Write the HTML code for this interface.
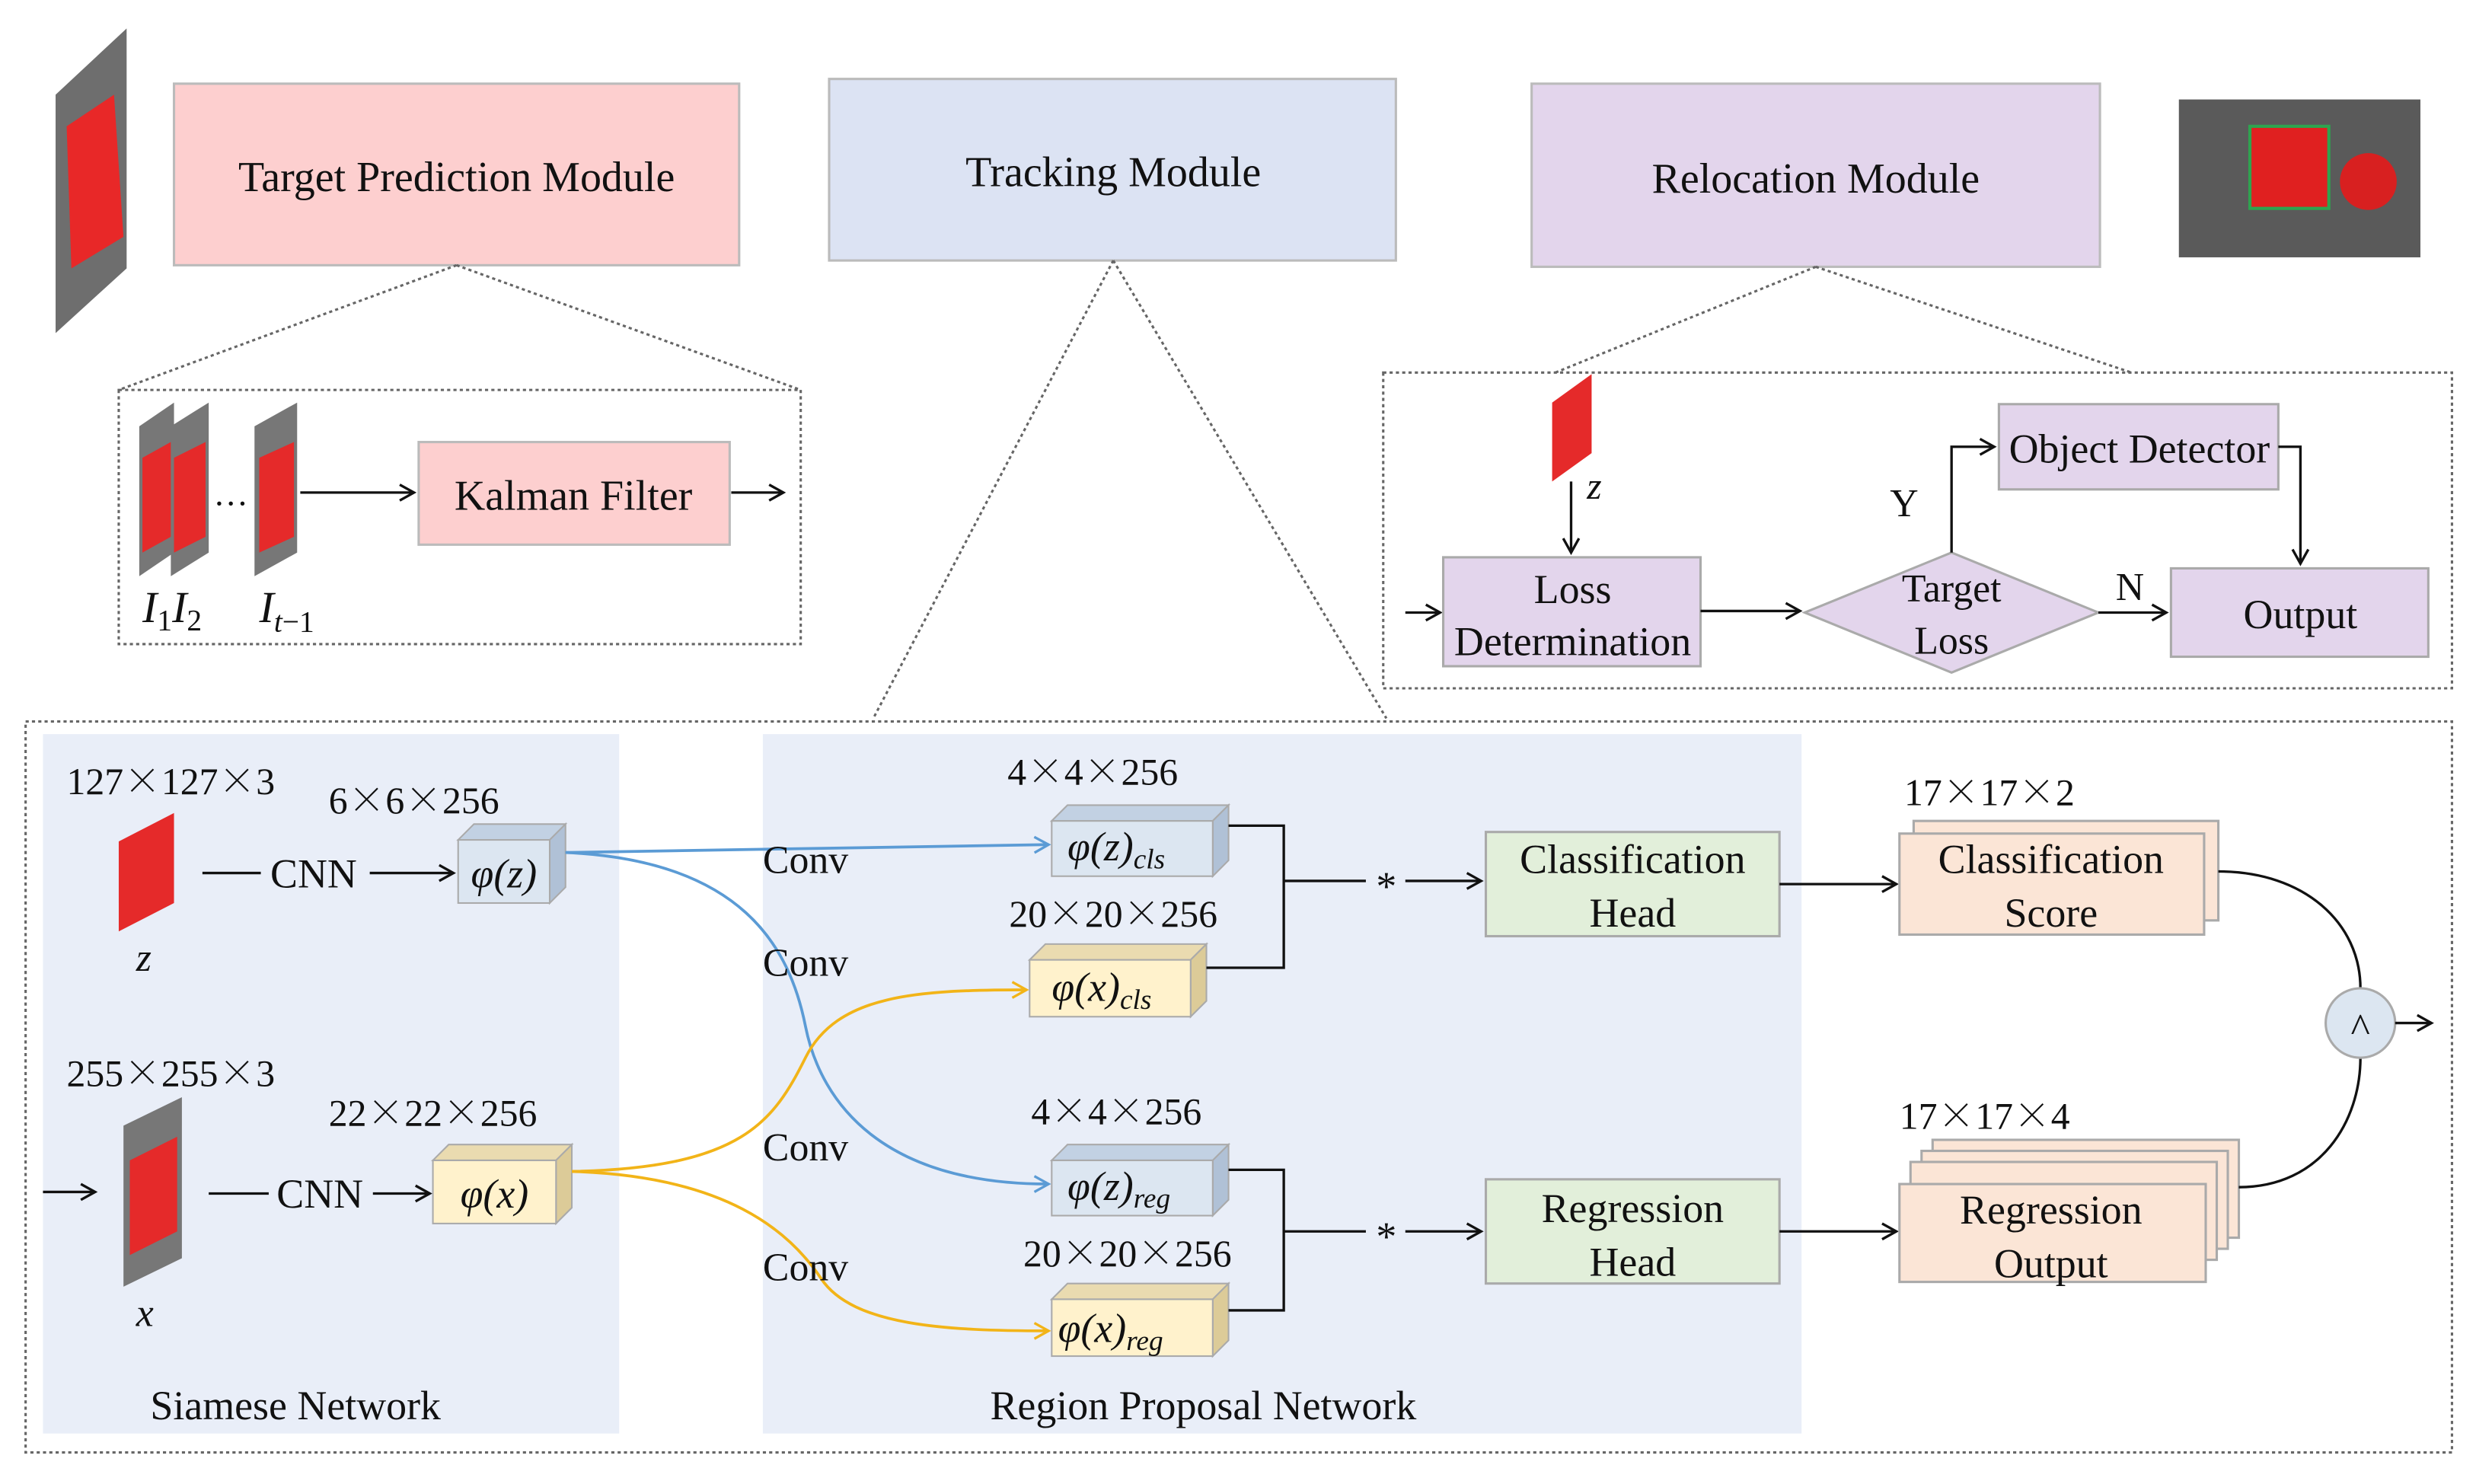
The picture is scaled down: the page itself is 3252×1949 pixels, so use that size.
<!DOCTYPE html>
<html><head><meta charset="utf-8"><style>
html,body{margin:0;padding:0;background:#fff;}
svg{display:block;}
text{font-family:"Liberation Serif",serif;fill:#111;}
.x{font-family:"Noto Serif CJK SC","Noto Sans CJK SC",serif;}
</style></head><body>
<svg width="3252" height="1949" viewBox="0 0 1568 940" xmlns="http://www.w3.org/2000/svg">
<defs>
<marker id="a" markerWidth="12" markerHeight="12" refX="10" refY="6" orient="auto" markerUnits="userSpaceOnUse">
<path d="M1,1 L10,6 L1,11" fill="none" stroke="#111" stroke-width="1.6"/></marker>
<marker id="ab" markerWidth="12" markerHeight="12" refX="10" refY="6" orient="auto" markerUnits="userSpaceOnUse">
<path d="M1,1 L10,6 L1,11" fill="none" stroke="#5b9bd5" stroke-width="1.6"/></marker>
<marker id="ay" markerWidth="12" markerHeight="12" refX="10" refY="6" orient="auto" markerUnits="userSpaceOnUse">
<path d="M1,1 L10,6 L1,11" fill="none" stroke="#f2b418" stroke-width="1.6"/></marker>
</defs>

<polygon points="35,60 80,18 80,170 35,211" fill="#6e6e6e"/>
<polygon points="42,80 72,60 78,150 45,170" fill="#e82828"/>

<rect x="110" y="53" width="358" height="115" fill="#fdcfcf" stroke="#bbb" stroke-width="1.5"/>
<text x="289" y="121" font-size="27" text-anchor="middle">Target Prediction Module</text>
<rect x="525" y="50" width="359" height="115" fill="#dce3f3" stroke="#bbb" stroke-width="1.5"/>
<text x="705" y="118" font-size="27" text-anchor="middle">Tracking Module</text>
<rect x="970" y="53" width="360" height="116" fill="#e3d5ec" stroke="#bbb" stroke-width="1.5"/>
<text x="1150" y="122" font-size="27" text-anchor="middle">Relocation Module</text>

<rect x="1380" y="63" width="153" height="100" fill="#5a5a5a"/>
<rect x="1425" y="80" width="50" height="52" fill="#e02020" stroke="#2ea44f" stroke-width="2"/>
<circle cx="1500" cy="115" r="18" fill="#d82020"/>

<g stroke="#666" stroke-width="1.5" stroke-dasharray="2,2" fill="none">
<path d="M289,168 L75,247 M289,168 L507,247"/>
<rect x="75" y="247" width="432" height="161"/>
<path d="M705,165 L553,455 M705,165 L878,455"/>
<path d="M1150,169 L985,236 M1150,169 L1350,236"/>
<rect x="876" y="236" width="677" height="200"/>
<rect x="16" y="457" width="1537" height="463"/>
</g>

<polygon points="88,270 110,255 110,350 88,365" fill="#777"/><polygon points="90,290 108,280 108,340 90,350" fill="#e52a2a"/>
<polygon points="108,270 132,255 132,350 108,365" fill="#777"/><polygon points="110,290 130,280 130,340 110,350" fill="#e52a2a"/>
<polygon points="161,270 188,255 188,350 161,365" fill="#777"/><polygon points="164,290 186,280 186,340 164,350" fill="#e52a2a"/>
<text x="135" y="320" font-size="22">…</text>
<line x1="190" y1="312" x2="262" y2="312" stroke="#111" stroke-width="1.6" marker-end="url(#a)"/>
<rect x="265" y="280" width="197" height="65" fill="#fdcfcf" stroke="#bbb" stroke-width="1.5"/>
<text x="363" y="323" font-size="27" text-anchor="middle">Kalman Filter</text>
<line x1="463" y1="312" x2="496" y2="312" stroke="#111" stroke-width="1.6" marker-end="url(#a)"/>
<text x="90" y="394" font-size="28" font-style="italic">I<tspan font-size="19" dy="5" font-style="normal">1</tspan><tspan dy="-5">I</tspan><tspan font-size="19" dy="5" font-style="normal">2</tspan></text>
<text x="164" y="394" font-size="28" font-style="italic">I<tspan font-size="19" dy="6">t</tspan><tspan font-size="19" font-style="normal">−1</tspan></text>

<polygon points="983,255 1008,237 1008,287 983,305" fill="#e52a2a"/>
<text x="1005" y="316" font-size="24" font-style="italic">z</text>
<line x1="995" y1="305" x2="995" y2="350" stroke="#111" stroke-width="1.6" marker-end="url(#a)"/>
<line x1="890" y1="388" x2="912" y2="388" stroke="#111" stroke-width="1.6" marker-end="url(#a)"/>
<rect x="914" y="353" width="163" height="69" fill="#e3d5ec" stroke="#aaa" stroke-width="1.5"/>
<text x="996" y="382" font-size="26" text-anchor="middle">Loss</text>
<text x="996" y="415" font-size="26" text-anchor="middle">Determination</text>
<line x1="1077" y1="387" x2="1140" y2="387" stroke="#111" stroke-width="1.6" marker-end="url(#a)"/>
<polygon points="1143,388 1236,350 1329,388 1236,426" fill="#e3d5ec" stroke="#aaa" stroke-width="1.5"/>
<text x="1236" y="381" font-size="25" text-anchor="middle">Target</text>
<text x="1236" y="414" font-size="25" text-anchor="middle">Loss</text>
<text x="1197" y="327" font-size="25">Y</text>
<path d="M1236,350 L1236,283 L1263,283" fill="none" stroke="#111" stroke-width="1.6" marker-end="url(#a)"/>
<rect x="1266" y="256" width="177" height="54" fill="#e3d5ec" stroke="#aaa" stroke-width="1.5"/>
<text x="1355" y="293" font-size="26" text-anchor="middle">Object Detector</text>
<path d="M1443,283 L1457,283 L1457,357" fill="none" stroke="#111" stroke-width="1.6" marker-end="url(#a)"/>
<text x="1340" y="380" font-size="25">N</text>
<line x1="1329" y1="388" x2="1372" y2="388" stroke="#111" stroke-width="1.6" marker-end="url(#a)"/>
<rect x="1375" y="360" width="163" height="56" fill="#e3d5ec" stroke="#aaa" stroke-width="1.5"/>
<text x="1457" y="398" font-size="26" text-anchor="middle">Output</text>

<rect x="27" y="465" width="365" height="443" fill="#e9eef8"/>
<rect x="483" y="465" width="658" height="443" fill="#e9eef8"/>

<text x="42" y="503" font-size="24">127<tspan class="x">×</tspan>127<tspan class="x">×</tspan>3</text>
<text x="208" y="515" font-size="24">6<tspan class="x">×</tspan>6<tspan class="x">×</tspan>256</text>
<polygon points="75,533 110,515 110,572 75,590" fill="#e52a2a"/>
<text x="86" y="615" font-size="25" font-style="italic">z</text>
<line x1="128" y1="553" x2="165" y2="553" stroke="#111" stroke-width="1.6"/>
<text x="171" y="562" font-size="26">CNN</text>
<line x1="234" y1="553" x2="287" y2="553" stroke="#111" stroke-width="1.6" marker-end="url(#a)"/>
<text x="42" y="688" font-size="24">255<tspan class="x">×</tspan>255<tspan class="x">×</tspan>3</text>
<text x="208" y="713" font-size="24">22<tspan class="x">×</tspan>22<tspan class="x">×</tspan>256</text>
<line x1="27" y1="755" x2="60" y2="755" stroke="#111" stroke-width="1.6" marker-end="url(#a)"/>
<polygon points="78,713 115,695 115,797 78,815" fill="#777"/>
<polygon points="82,735 112,720 112,780 82,795" fill="#e52a2a"/>
<text x="86" y="840" font-size="25" font-style="italic">x</text>
<line x1="132" y1="756" x2="170" y2="756" stroke="#111" stroke-width="1.6"/>
<text x="175" y="765" font-size="26">CNN</text>
<line x1="236" y1="756" x2="272" y2="756" stroke="#111" stroke-width="1.6" marker-end="url(#a)"/>
<text x="187" y="899" font-size="26" text-anchor="middle">Siamese Network</text>

<g stroke="#aaa" stroke-width="1">
<polygon points="290,532 300,522 358,522 348,532" fill="#c2d1e3"/><polygon points="348,532 358,522 358,562 348,572" fill="#b0c1d6"/><rect x="290" y="532" width="58" height="40" fill="#dce6f1"/>
<polygon points="274,735 284,725 362,725 352,735" fill="#eadbb0"/><polygon points="352,735 362,725 362,765 352,775" fill="#dccb98"/><rect x="274" y="735" width="78" height="40" fill="#fff2cc"/>
<polygon points="666,520 676,510 778,510 768,520" fill="#c2d1e3"/><polygon points="768,520 778,510 778,545 768,555" fill="#b0c1d6"/><rect x="666" y="520" width="102" height="35" fill="#dce6f1"/>
<polygon points="652,608 662,598 764,598 754,608" fill="#eadbb0"/><polygon points="754,608 764,598 764,634 754,644" fill="#dccb98"/><rect x="652" y="608" width="102" height="36" fill="#fff2cc"/>
<polygon points="666,735 676,725 778,725 768,735" fill="#c2d1e3"/><polygon points="768,735 778,725 778,760 768,770" fill="#b0c1d6"/><rect x="666" y="735" width="102" height="35" fill="#dce6f1"/>
<polygon points="666,823 676,813 778,813 768,823" fill="#eadbb0"/><polygon points="768,823 778,813 778,849 768,859" fill="#dccb98"/><rect x="666" y="823" width="102" height="36" fill="#fff2cc"/>
</g>
<text x="319" y="562" font-size="26" font-style="italic" text-anchor="middle">φ(z)</text>
<text x="313" y="765" font-size="26" font-style="italic" text-anchor="middle">φ(x)</text>
<text x="676" y="545" font-size="26" font-style="italic">φ(z)<tspan font-size="18" dy="5">cls</tspan></text>
<text x="666" y="634" font-size="26" font-style="italic">φ(x)<tspan font-size="18" dy="5">cls</tspan></text>
<text x="676" y="760" font-size="26" font-style="italic">φ(z)<tspan font-size="18" dy="5">reg</tspan></text>
<text x="670" y="850" font-size="26" font-style="italic">φ(x)<tspan font-size="18" dy="5">reg</tspan></text>

<path d="M358,540 L664,535" fill="none" stroke="#5b9bd5" stroke-width="1.8" marker-end="url(#ab)"/>
<path d="M358,540 C470,545 500,600 510,650 C520,700 560,750 664,750" fill="none" stroke="#5b9bd5" stroke-width="1.8" marker-end="url(#ab)"/>
<path d="M362,742 C470,740 490,710 510,670 C530,630 580,627 650,627" fill="none" stroke="#f2b418" stroke-width="1.8" marker-end="url(#ay)"/>
<path d="M362,742 C460,745 500,780 520,810 C540,840 600,843 664,843" fill="none" stroke="#f2b418" stroke-width="1.8" marker-end="url(#ay)"/>

<text x="483" y="553" font-size="25">Conv</text>
<text x="483" y="618" font-size="25">Conv</text>
<text x="483" y="735" font-size="25">Conv</text>
<text x="483" y="811" font-size="25">Conv</text>
<text x="692" y="497" font-size="24" text-anchor="middle">4<tspan class="x">×</tspan>4<tspan class="x">×</tspan>256</text>
<text x="705" y="587" font-size="24" text-anchor="middle">20<tspan class="x">×</tspan>20<tspan class="x">×</tspan>256</text>
<text x="707" y="712" font-size="24" text-anchor="middle">4<tspan class="x">×</tspan>4<tspan class="x">×</tspan>256</text>
<text x="714" y="802" font-size="24" text-anchor="middle">20<tspan class="x">×</tspan>20<tspan class="x">×</tspan>256</text>
<text x="762" y="899" font-size="26" text-anchor="middle">Region Proposal Network</text>

<g stroke="#111" stroke-width="1.6" fill="none">
<path d="M778,523 L813,523 L813,613 L764,613"/>
<path d="M813,558 L865,558"/>
<path d="M778,741 L813,741 L813,830 L778,830"/>
<path d="M813,780 L865,780"/>
</g>
<text x="878" y="570" font-size="26" text-anchor="middle">*</text>
<text x="878" y="792" font-size="26" text-anchor="middle">*</text>
<line x1="890" y1="558" x2="938" y2="558" stroke="#111" stroke-width="1.6" marker-end="url(#a)"/>
<line x1="890" y1="780" x2="938" y2="780" stroke="#111" stroke-width="1.6" marker-end="url(#a)"/>

<rect x="941" y="527" width="186" height="66" fill="#e2efda" stroke="#aaa" stroke-width="1.5"/>
<text x="1034" y="553" font-size="26" text-anchor="middle">Classification</text>
<text x="1034" y="587" font-size="26" text-anchor="middle">Head</text>
<rect x="941" y="747" width="186" height="66" fill="#e2efda" stroke="#aaa" stroke-width="1.5"/>
<text x="1034" y="774" font-size="26" text-anchor="middle">Regression</text>
<text x="1034" y="808" font-size="26" text-anchor="middle">Head</text>
<line x1="1127" y1="560" x2="1201" y2="560" stroke="#111" stroke-width="1.6" marker-end="url(#a)"/>
<line x1="1127" y1="780" x2="1201" y2="780" stroke="#111" stroke-width="1.6" marker-end="url(#a)"/>

<text x="1260" y="510" font-size="24" text-anchor="middle">17<tspan class="x">×</tspan>17<tspan class="x">×</tspan>2</text>
<rect x="1212" y="520" width="193" height="63" fill="#fbe5d6" stroke="#aaa" stroke-width="1.5"/>
<rect x="1203" y="528" width="193" height="64" fill="#fbe5d6" stroke="#aaa" stroke-width="1.5"/>
<text x="1299" y="553" font-size="26" text-anchor="middle">Classification</text>
<text x="1299" y="587" font-size="26" text-anchor="middle">Score</text>

<text x="1257" y="715" font-size="24" text-anchor="middle">17<tspan class="x">×</tspan>17<tspan class="x">×</tspan>4</text>
<rect x="1224" y="722" width="194" height="62" fill="#fbe5d6" stroke="#aaa" stroke-width="1.5"/>
<rect x="1217" y="729" width="194" height="62" fill="#fbe5d6" stroke="#aaa" stroke-width="1.5"/>
<rect x="1210" y="736" width="194" height="62" fill="#fbe5d6" stroke="#aaa" stroke-width="1.5"/>
<rect x="1203" y="750" width="194" height="62" fill="#fbe5d6" stroke="#aaa" stroke-width="1.5"/>
<text x="1299" y="775" font-size="26" text-anchor="middle">Regression</text>
<text x="1299" y="809" font-size="26" text-anchor="middle">Output</text>

<path d="M1405,552 C1460,552 1495,585 1495,626" fill="none" stroke="#111" stroke-width="1.6"/>
<path d="M1418,752 C1470,752 1495,710 1495,670" fill="none" stroke="#111" stroke-width="1.6"/>
<circle cx="1495" cy="648" r="22" fill="#dce6f1" stroke="#aaa" stroke-width="1.5"/>
<text x="1495" y="660" font-size="26" text-anchor="middle">^</text>
<line x1="1517" y1="648" x2="1540" y2="648" stroke="#111" stroke-width="1.6" marker-end="url(#a)"/>
</svg>
</body></html>
